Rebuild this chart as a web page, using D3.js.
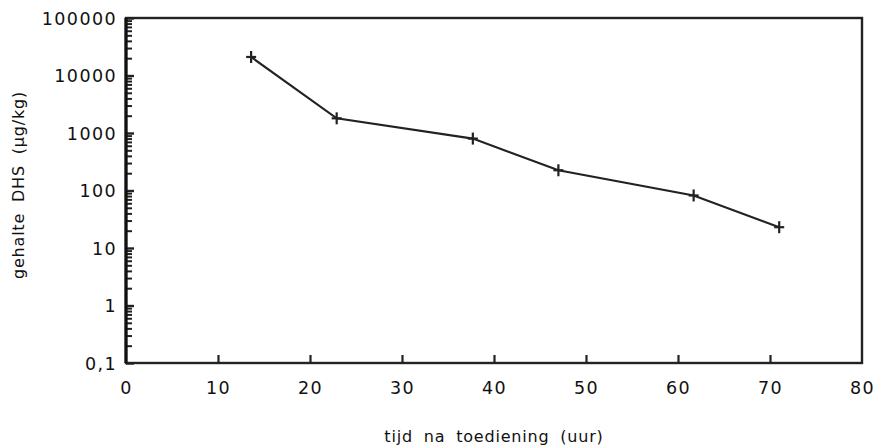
<!DOCTYPE html>
<html>
<head>
<meta charset="utf-8">
<script src="https://cdn.jsdelivr.net/npm/d3@7"></script>
<style>
  body { margin: 0; background: #fff; }
  svg { display: block; }
  .tick text { font-family: "DejaVu Sans", sans-serif; font-size: 17.5px; fill: #111; letter-spacing: 1.4px; }
  .axis-title { font-family: "DejaVu Sans", sans-serif; font-size: 16px; fill: #111; letter-spacing: 0.8px; word-spacing: 5px; }
</style>
</head>
<body>
<script>
// time after dosing (hours) and DHS content (ug/kg)
const timeHours = [13.6, 22.9, 37.7, 47, 61.7, 71];
const dhsContent = [21000, 1800, 800, 225, 82, 23];

const xTicks = [10, 20, 30, 40, 50, 60, 70];
const xTickLabels = [0, 10, 20, 30, 40, 50, 60, 70, 80];
const yTicks = [0.1, 1, 10, 100, 1000, 10000, 100000];
const yTickLabels = ["0,1", "1", "10", "100", "1000", "10000", "100000"];

const w = 878, h = 446;
const margin = {top: 18, right: 16, bottom: 83, left: 126};

const svg = d3.select("body").append("svg")
  .attr("width", w)
  .attr("height", h);

const x = d3.scaleLinear()
  .domain([0, 80])
  .range([margin.left, w - margin.right]);

const y = d3.scaleLog()
  .domain([0.1, 100000])
  .range([h - margin.bottom, margin.top]);

// minor ticks 2..9 in every decade
let minorTicks = [];
yTicks.slice(0, -1).forEach(d => {
  for (let k = 2; k <= 9; k++) minorTicks.push(d * k);
});

// x axis: ticks pointing into the plot
const xAxis = svg.append("g")
  .attr("transform", "translate(0," + y.range()[0] + ")")
  .call(d3.axisBottom(x).tickValues(xTicks).tickSize(-8).tickFormat(""));
xAxis.select(".domain").remove();
xAxis.selectAll("line").attr("stroke", "#222").attr("stroke-width", 2.2);

// x tick labels (incl. 0 and 80 at the frame corners)
const xLabels = svg.append("g")
  .attr("transform", "translate(0," + y.range()[0] + ")")
  .call(d3.axisBottom(x).tickValues(xTickLabels).tickSize(0).tickPadding(19).tickFormat(d3.format("d")));
xLabels.select(".domain").remove();

// y axis major ticks
const yAxis = svg.append("g")
  .attr("transform", "translate(" + x.range()[0] + ",0)")
  .call(d3.axisLeft(y).tickValues(yTicks).tickSize(-8).tickPadding(9)
    .tickFormat((d, i) => yTickLabels[i]));
yAxis.select(".domain").remove();
yAxis.selectAll("line").attr("stroke", "#222").attr("stroke-width", 2.4);
yAxis.selectAll("text").attr("dy", "0.36em");

// y axis minor ticks
const yMinor = svg.append("g")
  .attr("transform", "translate(" + x.range()[0] + ",0)")
  .call(d3.axisLeft(y).tickValues(minorTicks).tickSize(-6).tickFormat(""));
yMinor.select(".domain").remove();
yMinor.selectAll("line").attr("stroke", "#222").attr("stroke-width", 2);

// frame
svg.append("rect")
  .attr("x", x.range()[0])
  .attr("y", y.range()[1])
  .attr("width", x.range()[1] - x.range()[0])
  .attr("height", y.range()[0] - y.range()[1])
  .attr("fill", "none")
  .attr("stroke", "#222")
  .attr("stroke-width", 2.4);

// left axis is drawn heavier
svg.append("line")
  .attr("x1", x.range()[0]).attr("x2", x.range()[0])
  .attr("y1", y.range()[1]).attr("y2", y.range()[0])
  .attr("stroke", "#111").attr("stroke-width", 3.2);

// data line
const points = timeHours.map((t, i) => [t, dhsContent[i]]);
const line = d3.line()
  .x(d => x(d[0]))
  .y(d => y(d[1]));

svg.append("path")
  .datum(points)
  .attr("d", line)
  .attr("fill", "none")
  .attr("stroke", "#222")
  .attr("stroke-width", 2.2);

// plus markers
const marks = svg.selectAll(".mark")
  .data(points)
  .enter()
  .append("g")
  .attr("class", "mark")
  .attr("transform", d => "translate(" + x(d[0]) + "," + y(d[1]) + ")");
marks.append("line")
  .attr("x1", -5).attr("x2", 5).attr("y1", 0).attr("y2", 0)
  .attr("stroke", "#222").attr("stroke-width", 2.2);
marks.append("line")
  .attr("x1", 0).attr("x2", 0).attr("y1", -6).attr("y2", 6)
  .attr("stroke", "#222").attr("stroke-width", 2.2);

// axis titles
svg.append("text")
  .attr("class", "axis-title")
  .attr("x", (x.range()[0] + x.range()[1]) / 2)
  .attr("y", 442)
  .attr("text-anchor", "middle")
  .text("tijd na toediening (uur)");

svg.append("text")
  .attr("class", "axis-title")
  .attr("transform", "translate(24," + 185 + ") rotate(-90)")
  .attr("text-anchor", "middle")
  .text("gehalte DHS (µg/kg)");
</script>
</body>
</html>
